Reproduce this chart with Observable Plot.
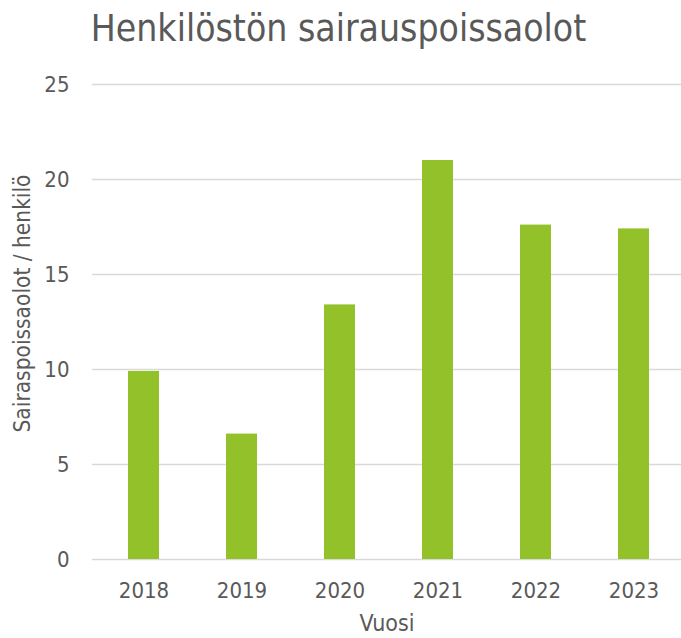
<!DOCTYPE html>
<html>
<head>
<meta charset="utf-8">
<script src="https://cdn.jsdelivr.net/npm/d3@7"></script>
<script src="https://cdn.jsdelivr.net/npm/@observablehq/plot@0.6"></script>
<style>
  html, body { margin: 0; padding: 0; background: #fff; }
</style>
</head>
<body>
<div id="chart"></div>
<script>
const years = ["2018", "2019", "2020", "2021", "2022", "2023"];
const values = [9.9, 6.6, 13.4, 21.0, 17.6, 17.4];
const yTicks = [0, 5, 10, 15, 20, 25];
const titleText = "Henkilöstön sairauspoissaolot";
const xLabel = "Vuosi";
const yLabel = "Sairaspoissaolot / henkilö";

const data = years.map((y, i) => ({year: y, value: values[i]}));
const font = "'DejaVu Sans Condensed', 'DejaVu Sans', sans-serif";
const textColor = "#595959";

const chart = Plot.plot({
  width: 681,
  height: 638,
  marginTop: 84,
  marginBottom: 79,
  marginLeft: 92,
  marginRight: 0,
  style: {fontFamily: font, fontSize: "22px", color: textColor, background: "#fff"},
  x: {domain: years, range: [92, 685], paddingInner: 0.686, paddingOuter: 0.343, label: null},
  y: {domain: [0, 25], label: null},
  marks: [
    Plot.ruleY(yTicks, {stroke: "#d9d9d9", strokeWidth: 1.5}),
    Plot.barY(data, {x: "year", y: "value", fill: "#92c12a"}),
    Plot.axisY(yTicks, {tickSize: 0, tickPadding: 23, fill: textColor, fontSize: 22, label: null}),
    Plot.axisX({tickSize: 0, tickPadding: 23, fill: textColor, fontSize: 22, label: null}),
    Plot.text([xLabel], {frameAnchor: "bottom", lineAnchor: "top", dy: 55, fill: textColor, fontSize: 23}),
    Plot.text([yLabel], {frameAnchor: "left", textAnchor: "middle", rotate: -90, dx: -70, dy: -18.5, fill: textColor, fontSize: 22.5}),
    Plot.text([titleText], {frameAnchor: "top", textAnchor: "middle", lineAnchor: "top", dx: -48.5, dy: -70, fill: textColor, fontSize: 37})
  ]
});
document.getElementById("chart").append(chart);
</script>
</body>
</html>
